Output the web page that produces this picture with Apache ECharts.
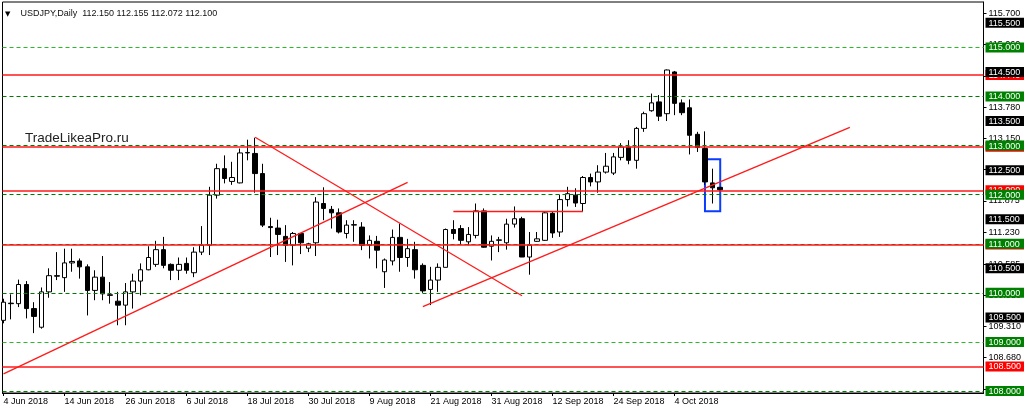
<!DOCTYPE html>
<html><head><meta charset="utf-8">
<script src="https://cdn.jsdelivr.net/npm/echarts@6/dist/echarts.min.js"></script>
<style>html,body{margin:0;padding:0;background:#fff}#c{width:1024px;height:412px}</style>
</head><body><div id="c"></div>
<script>
const symbolName = 'USDJPY,Daily';
const dates = [
 '4 Jun 2018','5 Jun 2018','6 Jun 2018','7 Jun 2018','8 Jun 2018','11 Jun 2018','12 Jun 2018','13 Jun 2018','14 Jun 2018','15 Jun 2018',
 '18 Jun 2018','19 Jun 2018','20 Jun 2018','21 Jun 2018','22 Jun 2018','25 Jun 2018','26 Jun 2018','27 Jun 2018','28 Jun 2018','29 Jun 2018',
 '2 Jul 2018','3 Jul 2018','4 Jul 2018','5 Jul 2018','6 Jul 2018','9 Jul 2018','10 Jul 2018','11 Jul 2018','12 Jul 2018','13 Jul 2018',
 '16 Jul 2018','17 Jul 2018','18 Jul 2018','19 Jul 2018','20 Jul 2018','23 Jul 2018','24 Jul 2018','25 Jul 2018','26 Jul 2018','27 Jul 2018',
 '30 Jul 2018','31 Jul 2018','1 Aug 2018','2 Aug 2018','3 Aug 2018','6 Aug 2018','7 Aug 2018','8 Aug 2018','9 Aug 2018','10 Aug 2018',
 '13 Aug 2018','14 Aug 2018','15 Aug 2018','16 Aug 2018','17 Aug 2018','20 Aug 2018','21 Aug 2018','22 Aug 2018','23 Aug 2018','24 Aug 2018',
 '27 Aug 2018','28 Aug 2018','29 Aug 2018','30 Aug 2018','31 Aug 2018','3 Sep 2018','4 Sep 2018','5 Sep 2018','6 Sep 2018','7 Sep 2018',
 '10 Sep 2018','11 Sep 2018','12 Sep 2018','13 Sep 2018','14 Sep 2018','17 Sep 2018','18 Sep 2018','19 Sep 2018','20 Sep 2018','21 Sep 2018',
 '24 Sep 2018','25 Sep 2018','26 Sep 2018','27 Sep 2018','28 Sep 2018','1 Oct 2018','2 Oct 2018','3 Oct 2018','4 Oct 2018','5 Oct 2018',
 '8 Oct 2018','9 Oct 2018','10 Oct 2018','11 Oct 2018','12 Oct 2018'
];
const opens = [
 109.44,109.79,109.78,110.17,109.68,109.30,110.02,110.35,110.31,110.61,
 110.65,110.53,110.05,110.32,109.96,109.83,109.75,110.02,110.24,110.47,
 110.58,110.88,110.58,110.46,110.60,110.41,110.83,110.97,111.99,112.53,
 112.27,112.24,112.85,112.84,112.43,111.35,111.32,111.15,110.97,111.21,
 110.91,111.02,111.82,111.70,111.63,111.21,111.38,111.34,110.97,111.05,
 110.43,110.65,111.13,110.72,110.88,110.56,110.07,110.26,110.52,111.29,
 111.31,111.04,111.17,111.67,110.95,111.07,111.02,111.40,111.51,110.73,
 111.05,111.07,111.62,111.24,111.90,111.99,111.82,112.35,112.26,112.46,
 112.44,112.76,112.97,112.70,113.35,113.71,113.89,113.65,114.50,113.87,
 113.77,113.23,112.94,112.24,112.150
];
const highs = [
 109.88,109.97,110.27,110.24,109.81,110.11,110.50,110.83,110.90,110.90,
 110.70,110.58,110.46,110.75,110.22,110.02,110.20,110.39,110.60,110.95,
 111.06,111.14,110.60,110.72,110.72,110.93,111.36,112.16,112.63,112.80,
 112.67,112.94,113.12,113.16,112.63,111.53,111.49,111.38,111.24,111.22,
 111.02,111.95,112.15,111.77,111.72,111.48,111.48,111.44,111.17,111.16,
 110.70,111.29,111.41,111.10,111.04,110.60,110.53,110.60,111.31,111.48,
 111.38,111.34,111.82,111.72,111.17,111.14,111.51,111.76,111.55,111.24,
 111.24,111.65,111.66,112.00,112.16,112.13,112.38,112.43,112.60,112.85,
 112.85,113.05,113.11,113.38,113.69,114.06,114.03,114.55,114.52,113.94,
 113.94,113.28,113.29,112.53,112.155
];
const lows = [
 109.38,109.46,109.71,109.48,109.18,109.27,109.90,110.26,110.02,110.43,
 110.29,109.54,109.85,109.85,109.78,109.34,109.34,109.68,109.95,110.46,
 110.53,110.50,110.26,110.26,110.39,110.32,110.77,110.77,111.92,112.23,
 112.20,112.23,112.70,112.04,111.34,110.73,110.77,110.63,110.56,110.79,
 110.83,110.75,111.48,111.31,111.21,111.11,111.04,110.87,110.70,110.50,
 110.10,110.56,110.43,110.53,110.29,110.00,109.75,110.02,110.52,111.09,
 110.99,110.97,111.11,110.92,110.66,110.83,110.88,111.33,110.73,110.37,
 111.04,111.06,111.12,111.14,111.76,111.75,111.65,112.17,112.04,112.43,
 112.40,112.70,112.62,112.53,113.28,113.69,113.50,113.50,113.62,113.62,
 112.82,112.87,112.20,111.82,112.072
];
const closes = [
 109.81,109.78,110.17,109.68,109.52,110.02,110.35,110.34,110.61,110.64,
 110.53,110.05,110.32,109.98,109.95,109.75,110.02,110.24,110.47,110.72,
 110.88,110.56,110.46,110.58,110.46,110.83,110.97,111.99,112.53,112.33,
 112.35,112.85,112.86,112.43,111.38,111.33,111.19,110.97,111.21,111.02,
 111.00,111.85,111.72,111.63,111.24,111.38,111.39,110.97,111.07,110.87,
 110.67,111.13,110.72,110.90,110.47,110.04,110.26,110.52,111.29,111.21,
 111.07,111.19,111.67,110.93,111.05,111.08,111.40,111.51,110.73,110.97,
 111.10,111.63,111.22,111.90,112.02,111.83,112.35,112.26,112.46,112.58,
 112.77,112.97,112.70,113.35,113.65,113.87,113.60,114.54,113.86,113.67,
 113.21,112.96,112.26,112.14,112.100
];
const priceTickLabels = [115.70,115.06,114.42,113.78,113.15,112.51,111.875,111.23,110.585,109.95,109.31,108.68,108.04];
const lightGreenLevels = [115, 109];
const darkGreenLevels = [114, 113, 112, 111, 110, 108];
const redLevels = [114.44, 112.975, 112.09, 110.985, 108.5];
const blackPriceLabels = [115.5, 114.5, 113.5, 112.5, 111.5, 110.5, 109.5];
const greenPriceLabels = [115, 114, 113, 112, 111, 110, 109, 108];
// trend lines: [barFrom, priceFrom, barTo, priceTo]
const trendLines = [
 [0, 108.35, 53, 112.25],
 [55, 109.72, 111, 113.37],
 [33, 113.17, 68, 109.94],
 [59, 111.66, 76, 111.66]
];
const rectangle = [92, 112.72, 94, 111.66];
const watermark = 'TradeLikeaPro.ru';

const FONT = '"Liberation Sans", Arial, sans-serif';
const Y_MIN = 107.96, Y_MAX = 115.925;
const X_MIN = -0.131, X_MAX = 128.53;
const dateTickIdx = dates.map((d, i) => i).filter(i => i % 8 === 0);
const candleData = dates.map((d, i) => [i, opens[i], closes[i], lows[i], highs[i]]);
const last = dates.length - 1;
const fmt = v => v.toFixed(3);
const titleText = symbolName + '  ' + [opens[last], highs[last], lows[last], closes[last]].map(fmt).join(' ');

const hLines = []
 .concat(lightGreenLevels.map(v => ({ yAxis: v, lineStyle: { color: '#2eb82e', type: [4, 3], width: 1.2 } })))
 .concat(darkGreenLevels.map(v => ({ yAxis: v, lineStyle: { color: '#007a00', type: [4, 3], width: 1.2 } })))
 .concat(redLevels.map(v => ({ yAxis: v, lineStyle: { color: '#ff1a1a', type: 'solid', width: 1.6 } })))
 .concat(trendLines.map(t => [
   { coord: [t[0], t[1]], lineStyle: { color: '#ff1a1a', type: 'solid', width: 1.3 } },
   { coord: [t[2], t[3]], lineStyle: { color: '#ff1a1a', type: 'solid', width: 1.3 } }
 ]));

const boxRich = (bg) => ({ backgroundColor: bg, color: '#fff', fontSize: 9, fontFamily: FONT, padding: [1, 3, 0, 3], width: 40, height: 9, lineHeight: 9 });

const yBase = { type: 'value', min: Y_MIN, max: Y_MAX, position: 'right', gridIndex: 0, splitLine: { show: false } };

const option = {
  animation: false,
  backgroundColor: '#fff',
  title: [
    { text: '{t|▼}  {s|' + titleText + '}', left: 5, top: 5, padding: 0,
      textStyle: { fontWeight: 'normal', rich: { t: { fontSize: 7, color: '#000', fontFamily: 'DejaVu Sans', fontWeight: 'normal' },
        s: { fontSize: 9, color: '#111', fontFamily: FONT, fontWeight: 'normal' } } } },
    { text: watermark, left: 25, top: 131, padding: 0, textStyle: { fontSize: 13.5, fontWeight: 'normal', color: '#222', fontFamily: FONT } }
  ],
  grid: { left: 2.5, right: 40.5, top: 2, bottom: 19, outerBoundsMode: 'none', containLabel: false,
    show: true, borderColor: '#000', borderWidth: 1, backgroundColor: '#fff' },
  xAxis: {
    type: 'value', min: X_MIN, max: X_MAX,
    splitLine: { show: false },
    axisLine: { show: true, onZero: false, lineStyle: { color: '#000', width: 1 } },
    axisTick: { show: true, customValues: dateTickIdx, length: 3, lineStyle: { color: '#000' } },
    axisLabel: { customValues: dateTickIdx, formatter: v => dates[Math.round(v)] || '', align: 'left', margin: 4,
      fontSize: 9, color: '#000', fontFamily: FONT }
  },
  yAxis: [
    Object.assign({}, yBase, {
      axisLine: { show: true, onZero: false, lineStyle: { color: '#000' } },
      axisTick: { show: true, customValues: priceTickLabels, length: 3, lineStyle: { color: '#000' } },
      axisLabel: { customValues: priceTickLabels, formatter: fmt, margin: 5, fontSize: 9, color: '#000', fontFamily: FONT }
    }),
    Object.assign({}, yBase, {
      z: 3,
      axisLine: { show: false, onZero: false }, axisTick: { show: false },
      axisLabel: { customValues: redLevels, margin: 2, formatter: v => '{r|' + fmt(v) + '}', rich: { r: boxRich('#ff0000') } }
    }),
    Object.assign({}, yBase, {
      z: 4,
      axisLine: { show: false, onZero: false }, axisTick: { show: false },
      axisLabel: { customValues: blackPriceLabels.concat(greenPriceLabels), margin: 2,
        formatter: v => (Math.abs(v - Math.round(v)) < 1e-6 ? '{g|' : '{k|') + fmt(v) + '}',
        rich: { g: boxRich('#008000'), k: boxRich('#000000') } }
    })
  ],
  series: [{
    type: 'candlestick',
    xAxisIndex: 0, yAxisIndex: 0,
    data: candleData,
    barWidth: 5,
    itemStyle: { color: '#ffffff', color0: '#000000', borderColor: '#000000', borderColor0: '#000000', borderWidth: 1 },
    markLine: { silent: true, symbol: 'none', label: { show: false }, data: hLines },
    markArea: { silent: true, itemStyle: { color: 'rgba(0,0,0,0)', borderColor: '#0a3cff', borderWidth: 2 },
      data: [[{ coord: [rectangle[0], rectangle[1]] }, { coord: [rectangle[2], rectangle[3]] }]] }
  }]
};
const chart = echarts.init(document.getElementById('c'));
chart.setOption(option);
</script>
</body></html>
